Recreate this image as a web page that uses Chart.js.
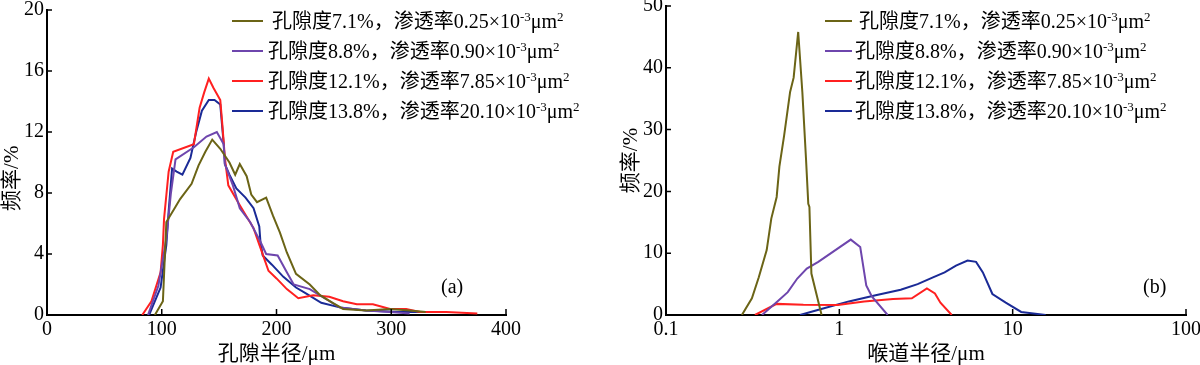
<!DOCTYPE html>
<html>
<head>
<meta charset="utf-8">
<script src="https://cdn.jsdelivr.net/npm/chart.js@4/dist/chart.umd.min.js"></script>
<style>
  body { margin: 0; background: #fff; width: 1200px; height: 365px; position: relative; overflow: hidden;
         font-family: "Liberation Serif", "Noto Sans CJK SC", serif; color: #000; }
  .box { position: absolute; top: 0; width: 600px; height: 365px; }
  .row { position: absolute; white-space: nowrap; font-size: 20px; line-height: 20px; height: 20px; }
  .row i { position: absolute; height: 2px; top: 9px; }
  .row span { position: absolute; top: 0; }
  .row sup { font-size: 13px; vertical-align: 7px; line-height: 0; }
  .tag { position: absolute; font-size: 20px; line-height: 20px; }
</style>
</head>
<body>
<div class="box" style="left:0"><canvas id="chartA" width="600" height="365"></canvas></div>
<div class="box" style="left:600px"><canvas id="chartB" width="600" height="365"></canvas></div>
<div class="tag" style="left:441px;top:276px">(a)</div>
<div class="tag" style="left:1143px;top:276px">(b)</div>
<div id="legendA"></div>
<div id="legendB"></div>
<script>
// sample labels
const porosity = ['7.1', '8.8', '12.1', '13.8'];
const permeability = ['0.25', '0.90', '7.85', '20.10'];
const colors = ['#6b6416', '#6e46ad', '#ff2020', '#1a2a96'];

// (a) pore radius distribution
const xTicksA = [0, 100, 200, 300, 400];
const yTicksA = [0, 4, 8, 12, 16, 20];
const poreR1 = [94, 101, 104, 112, 116, 126, 132, 138, 144, 151, 159, 164, 168, 174, 178, 183, 191, 197, 203, 209, 217, 229, 238, 249, 258, 278, 299, 316, 330];
const poreF1 = [0, 0.9, 6.1, 7.1, 7.6, 8.6, 9.8, 10.7, 11.5, 10.9, 10.0, 9.2, 9.9, 9.1, 7.9, 7.4, 7.7, 6.5, 5.4, 4.1, 2.7, 2.0, 1.3, 0.8, 0.4, 0.3, 0.4, 0.3, 0.2];
const poreR2 = [88, 97, 104, 108, 112, 128, 139, 148, 154, 155, 162, 168, 177, 186, 191, 201, 209, 215, 229, 244, 255, 278, 299, 316];
const poreF2 = [0, 1.9, 5.0, 8.0, 10.2, 11.0, 11.7, 12.0, 11.2, 9.9, 8.5, 7.0, 6.1, 4.8, 4.0, 3.9, 2.8, 2.0, 1.7, 1.0, 0.5, 0.3, 0.2, 0.1];
const poreR3 = [83, 91, 99, 101, 102, 106, 110, 128, 133, 137, 141, 145, 151, 153, 155, 158, 168, 180, 186, 193, 200, 209, 219, 232, 246, 258, 270, 284, 299, 313, 325, 348, 375];
const poreF3 = [0, 0.9, 2.8, 4.6, 6.3, 9.4, 10.7, 11.2, 13.6, 14.6, 15.5, 14.9, 14.1, 12.3, 10.3, 8.5, 7.2, 5.7, 4.4, 2.9, 2.4, 1.7, 1.1, 1.3, 1.2, 0.9, 0.7, 0.7, 0.4, 0.4, 0.2, 0.2, 0.1];
const poreR4 = [89, 99, 104, 106, 109, 113, 118, 125, 130, 135, 141, 146, 151, 154, 155, 159, 165, 173, 180, 185, 186, 188, 196, 206, 217, 226, 239, 255, 278, 307, 330];
const poreF4 = [0, 1.8, 4.6, 6.8, 9.6, 9.4, 9.2, 10.3, 12.0, 13.4, 14.1, 14.1, 13.8, 11.2, 9.9, 9.2, 8.3, 7.7, 7.0, 5.8, 4.8, 3.9, 3.3, 2.5, 1.8, 1.4, 0.8, 0.5, 0.3, 0.2, 0.2];

// (b) throat radius distribution
const xTicksB = [0.1, 1, 10, 100];
const yTicksB = [0, 10, 20, 30, 40, 50];
const throatR1 = [0.274, 0.313, 0.343, 0.381, 0.405, 0.435, 0.451, 0.48, 0.52, 0.545, 0.579, 0.612, 0.643, 0.662, 0.672, 0.69, 0.79];
const throatF1 = [0, 2.7, 6.1, 10.5, 15.6, 19.1, 24.0, 29.0, 36.1, 38.4, 45.8, 36.0, 25.0, 18.0, 17.5, 6.7, 0];
const throatR2 = [0.358, 0.444, 0.504, 0.572, 0.649, 0.756, 1.164, 1.32, 1.43, 1.54, 1.9];
const throatF2 = [0, 2.3, 3.7, 5.9, 7.5, 8.6, 12.2, 11.0, 4.8, 3.0, 0];
const throatR3 = [0.326, 0.435, 0.62, 0.98, 1.39, 2.04, 2.62, 3.2, 3.56, 3.83, 4.45];
const throatF3 = [0, 1.8, 1.65, 1.6, 2.2, 2.6, 2.7, 4.3, 3.5, 2.0, 0];
const throatR4 = [0.593, 0.796, 1.135, 1.62, 2.26, 2.83, 3.47, 4.05, 4.71, 5.49, 6.15, 6.73, 7.64, 9.12, 11.2, 15.5];
const throatF4 = [0, 1.0, 2.2, 3.2, 4.1, 5.0, 6.1, 6.9, 8.0, 8.8, 8.6, 6.9, 3.4, 2.0, 0.5, 0];

const fontFamily = "'Liberation Serif', 'Noto Sans CJK SC', serif";
const tickFont = { family: fontFamily, size: 20, lineHeight: 1 };
const titleFont = { family: fontFamily, size: 21, lineHeight: 1 };

function toPoints(xs, ys) {
  return xs.map((x, i) => ({ x: x, y: ys[i] }));
}

function makeDatasets(series) {
  return series.map((s, i) => ({
    label: '孔隙度' + porosity[i] + '%，渗透率' + permeability[i] + '×10⁻³μm²',
    data: toPoints(s[0], s[1]),
    borderColor: colors[i],
    borderWidth: 2,
    pointRadius: 0,
    tension: 0,
    fill: false
  }));
}

// chart.js puts ticks outside, the figure has them pointing in
const inwardTicks = {
  id: 'inwardTicks',
  afterDraw(chart) {
    const { ctx, chartArea: a, scales: { x, y } } = chart;
    ctx.save();
    ctx.strokeStyle = '#000';
    ctx.lineWidth = 1.5;
    ctx.beginPath();
    x.ticks.forEach(t => {
      const px = x.getPixelForValue(t.value);
      ctx.moveTo(px, a.bottom);
      ctx.lineTo(px, a.bottom - 6);
    });
    y.ticks.forEach(t => {
      const py = y.getPixelForValue(t.value);
      ctx.moveTo(a.left, py);
      ctx.lineTo(a.left + 5, py);
    });
    ctx.stroke();
    ctx.restore();
  }
};

function makeOptions(cfg) {
  return {
    responsive: false,
    animation: false,
    layout: { padding: cfg.padding },
    plugins: { legend: { display: false }, tooltip: { enabled: false } },
    scales: {
      x: {
        type: cfg.xType,
        min: cfg.xTicks[0],
        max: cfg.xTicks[cfg.xTicks.length - 1],
        afterBuildTicks: s => { s.ticks = cfg.xTicks.map(v => ({ value: v })); },
        afterFit: s => { s.height = 365 - cfg.bottom; s.paddingLeft = 0; s.paddingRight = 0; },
        grid: { display: true, drawOnChartArea: false, drawTicks: false },
        border: { display: true, color: '#000', width: 2 },
        ticks: { color: '#000', font: tickFont, padding: 5, maxRotation: 0, autoSkip: false, callback: v => String(v) },
        title: { display: true, text: cfg.xTitle, color: '#000', font: titleFont, padding: { top: 0, bottom: 0 } }
      },
      y: {
        type: 'linear',
        min: 0,
        max: cfg.yTicks[cfg.yTicks.length - 1],
        afterBuildTicks: s => { s.ticks = cfg.yTicks.map(v => ({ value: v })); },
        afterFit: s => { s.width = cfg.left; s.paddingTop = 0; s.paddingBottom = 0; },
        grid: { display: true, drawOnChartArea: false, drawTicks: false },
        border: { display: true, color: '#000', width: 2 },
        ticks: { color: '#000', font: tickFont, padding: 3, autoSkip: false },
        title: { display: true, text: cfg.yTitle, color: '#000', font: titleFont, padding: { top: cfg.yTitlePad, bottom: 0 } }
      }
    }
  };
}

new Chart(document.getElementById('chartA'), {
  type: 'line',
  data: { datasets: makeDatasets([[poreR1, poreF1], [poreR2, poreF2], [poreR3, poreF3], [poreR4, poreF4]]) },
  options: makeOptions({
    xType: 'linear', xTicks: xTicksA, yTicks: yTicksA,
    xTitle: '孔隙半径/μm', yTitle: '频率/%      ',
    padding: { left: 0, right: 94, top: 10, bottom: 0 },
    left: 47, bottom: 315, yTitlePad: 2
  }),
  plugins: [inwardTicks]
});

new Chart(document.getElementById('chartB'), {
  type: 'line',
  data: { datasets: makeDatasets([[throatR1, throatF1], [throatR2, throatF2], [throatR3, throatF3], [throatR4, throatF4]]) },
  options: makeOptions({
    xType: 'logarithmic', xTicks: xTicksB, yTicks: yTicksB,
    xTitle: '喉道半径/μm', yTitle: '频率/%',
    padding: { left: 0, right: 14, top: 6, bottom: 0 },
    left: 66, bottom: 315, yTitlePad: 21
  }),
  plugins: [inwardTicks]
});

// legend rows with real superscripts
function buildLegend(id, lineLeft, lineWidth, textLeft) {
  const rowsY = [21, 51, 81, 111];
  const holder = document.getElementById(id);
  porosity.forEach((p, i) => {
    const row = document.createElement('div');
    row.className = 'row';
    row.style.left = '0px';
    row.style.top = (rowsY[i] - 10) + 'px';
    row.innerHTML = '<i style="left:' + lineLeft + 'px;width:' + lineWidth + 'px;background:' + colors[i] + '"></i>' +
      '<span style="left:' + (textLeft + (i === 0 ? 4 : 0)) + 'px">孔隙度' + p + '%，渗透率' + permeability[i] +
      '×10<sup>-3</sup>μm<sup>2</sup></span>';
    holder.appendChild(row);
  });
}
buildLegend('legendA', 232, 31, 268);
buildLegend('legendB', 825, 27, 855);
</script>
</body>
</html>
